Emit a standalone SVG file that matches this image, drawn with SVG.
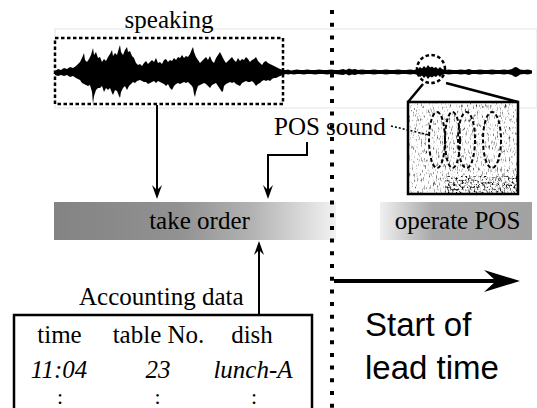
<svg xmlns="http://www.w3.org/2000/svg" width="537" height="408" viewBox="0 0 537 408">
<style>
.serif{font-family:"Liberation Serif","Times New Roman",serif;font-size:25px;fill:#000}
.it{font-style:italic}
.col{font-size:22px}
.sans{font-family:"Liberation Sans",Arial,sans-serif;font-size:33px;fill:#000}
.conn{fill:none;stroke:#000;stroke-width:2}
.dash{fill:none;stroke:#000;stroke-width:2.5;stroke-dasharray:3.5 2.5}
</style>
<defs>
<marker id="ah" viewBox="-14 -6 14 12" markerWidth="14" markerHeight="12" refX="-4" refY="0" orient="auto" markerUnits="userSpaceOnUse">
<path d="M0,0 L-14,-5 L-9,0 L-14,5 Z" fill="#000"/>
</marker>
<linearGradient id="gTake" x1="0" y1="0" x2="1" y2="0">
<stop offset="0" stop-color="#838383"/>
<stop offset="0.45" stop-color="#929292"/>
<stop offset="0.7" stop-color="#b2b2b2"/>
<stop offset="1" stop-color="#f2f2f2"/>
</linearGradient>
<linearGradient id="gPos" x1="0" y1="0" x2="1" y2="0">
<stop offset="0" stop-color="#f0f0f0"/>
<stop offset="0.35" stop-color="#a8a8a8"/>
<stop offset="1" stop-color="#a2a2a2"/>
</linearGradient>
<filter id="noise" filterUnits="userSpaceOnUse" x="409" y="103" width="108" height="90">
<feTurbulence type="fractalNoise" baseFrequency="0.75 0.22" numOctaves="3" seed="7"/>
<feColorMatrix type="matrix" values="0 0 0 0 0  0 0 0 0 0  0 0 0 0 0  -2.4 0 0 0 1.08"/>
</filter>
<filter id="noise2" filterUnits="userSpaceOnUse" x="445" y="176" width="72" height="17">
<feTurbulence type="fractalNoise" baseFrequency="0.5 0.45" numOctaves="2" seed="3"/>
<feColorMatrix type="matrix" values="0 0 0 0 0  0 0 0 0 0  0 0 0 0 0  -4 0 0 0 2.0"/>
</filter>
</defs>
<rect width="537" height="408" fill="#fff"/>

<!-- waveform strip -->
<g id="waveform">
<rect x="55" y="29" width="482" height="79" fill="none" stroke="#ededed" stroke-width="1.5"/>
<path fill="#000" d="M55,71 L58,69 61,70 64,68 67,69 70,67 73,68 76,66 78,64 80,62 82,58 84,53 85,60 87,62 89,59 91,55 93,48 94,55 96,52 98,58 100,57 102,62 104,59 106,61 108,57 110,54 112,50 113,56 115,53 117,55 119,48 120,45 121,52 123,55 125,50 127,47 128,52 130,51 132,56 134,58 136,63 138,65 140,64 142,66 144,63 146,61 148,64 150,62 152,60 154,62 156,58 158,63 160,62 162,64 164,60 166,59 168,62 170,60 172,61 174,58 176,60 178,57 180,58 182,55 184,58 186,56 188,57 190,54 192,49 193,47 194,52 196,57 198,60 200,63 202,61 204,59 206,57 208,60 210,56 212,61 214,63 216,58 218,55 220,52 222,56 224,60 226,63 228,61 230,59 232,57 234,60 236,62 238,58 240,61 242,59 244,60 246,57 248,59 250,62 252,60 254,59 256,57 258,61 260,63 262,65 264,62 266,61 268,63 270,64 272,65 274,66 276,67 278,68 280,69 283,70 286,70 288,69.5 291,70.5 294,70 297,69.5 300,70 304,70 307,69.5 311,70 315,70 319,69.5 323,70 327,70 331,69.5 335,70 339,70 343,69 346,70 349,68.5 352,69.5 355,69 358,70 362,69.5 366,70 370,70 374,69.5 378,70 382,70 386,69.5 390,70 394,70 398,69.5 402,70 406,70 410,69.5 414,70 418,69 420,67 422,68.5 424,66 426,68 428,65 430,67.5 432,66.5 434,68 436,67 438,69 440,67 442,69 445,70 449,69.5 453,70 457,70 461,69.5 465,70 469,69 472,70 476,70 480,69.5 484,70 488,70 492,69.5 496,70 500,70 504,69.5 508,70 512,69 514,67.5 516,67 518,68 520,69.5 524,70 528,69.5 532,70.5 L532,73 L55,73 Z"/>
<path fill="#000" d="M55,75 L58,76 61,75 64,76 67,75 70,77 73,76 76,78 78,79 80,80 82,83 84,84 86,85 88,86 90,85 92,92 93,104 94,96 96,90 98,88 100,88 102,86 104,92 106,88 108,90 110,88 112,93 113,95 115,90 117,91 119,96 120,98 121,92 123,88 125,86 127,90 129,86 131,84 133,82 135,83 137,81 140,80 142,81 144,82 146,82 148,84 150,83 152,82 154,81 156,83 158,81 160,82 162,83 164,84 166,86 168,84 170,88 172,90 174,86 176,84 178,83 180,84 182,83 184,82 186,83 188,82 190,84 192,86 193,88 194,94 195,97 196,92 198,86 200,85 202,84 204,83 206,84 208,86 210,88 212,85 214,84 216,83 218,86 220,89 222,92 223,91 224,86 226,84 228,83 230,82 232,83 234,82 236,84 238,85 240,86 242,83 244,82 246,81 248,82 250,82 252,81 254,83 256,86 258,84 260,83 262,81 264,80 266,81 268,80 270,81 272,79 274,78 276,78 278,77 280,76 283,75 286,74 288,74.5 291,74 294,74.5 297,74 300,74 304,74.5 307,74 311,74 315,74.5 319,74 323,74 327,74.5 331,74 335,74 339,74.5 343,75 346,74 349,75.5 352,74.5 355,75 358,74 362,74.5 366,74 370,74 374,74.5 378,74 382,74 386,74.5 390,74 394,74 398,74.5 402,74 406,74 410,74.5 414,74 418,75 420,77 422,75.5 424,78 426,76 428,79 430,76.5 432,77.5 434,76 436,77 438,75 440,77 442,75 445,74 449,74.5 453,74 457,74 461,74.5 465,74 469,75 472,74 476,74 480,74.5 484,74 488,74 492,74.5 496,74 500,74 504,74.5 508,74 512,75 514,76.5 516,77 518,76 520,74.5 524,74 528,74.5 532,73.5 L532,71 L55,71 Z"/>
</g>

<!-- speaking node -->
<g id="node-speaking">
<rect class="dash" x="55" y="38" width="228" height="66"/>
<text class="serif" x="169" y="28" text-anchor="middle">speaking</text>
</g>

<!-- POS sound node -->
<g id="node-pos-sound">
<circle class="dash" cx="431" cy="69" r="14"/>
<line x1="423" y1="84" x2="408" y2="102" stroke="#000" stroke-width="2.5"/>
<line x1="446" y1="83" x2="518" y2="102" stroke="#000" stroke-width="2.5"/>
<rect x="408" y="102" width="110" height="92" fill="#fff"/>
<rect x="409" y="103" width="108" height="90" fill="#000" filter="url(#noise)"/>
<rect x="445" y="176" width="72" height="17" fill="#000" filter="url(#noise2)"/>
<rect x="408" y="102" width="110" height="92" fill="none" stroke="#000" stroke-width="2.5"/>
<g fill="none" stroke="#000" stroke-width="2" stroke-dasharray="4 2.5">
<ellipse cx="437" cy="140" rx="8" ry="28"/>
<ellipse cx="452.5" cy="140" rx="7.5" ry="28"/>
<ellipse cx="466.5" cy="140" rx="8.5" ry="28"/>
<ellipse cx="492" cy="140" rx="9" ry="28"/>
</g>
<line x1="391" y1="126" x2="429" y2="135" stroke="#000" stroke-width="1.6" stroke-dasharray="2 2"/>
<text class="serif" x="274" y="135">POS sound</text>
</g>

<!-- take order node -->
<g id="node-take-order">
<rect x="54" y="202" width="282" height="38" fill="url(#gTake)"/>
<text class="serif" x="199.5" y="229" text-anchor="middle" fill="#111">take order</text>
</g>

<!-- operate POS node -->
<g id="node-operate-pos">
<rect x="380" y="202" width="152" height="38" fill="url(#gPos)"/>
<text class="serif" x="457.5" y="229" text-anchor="middle" fill="#111">operate POS</text>
</g>

<!-- accounting data node -->
<g id="node-accounting">
<text class="serif" x="79" y="305">Accounting data</text>
<rect x="14" y="315" width="298" height="100" fill="none" stroke="#000" stroke-width="2.5"/>
<text class="serif" x="59.5" y="343" text-anchor="middle">time</text>
<text class="serif" x="158.5" y="343" text-anchor="middle">table No.</text>
<text class="serif" x="252" y="343" text-anchor="middle">dish</text>
<text class="serif it" x="59" y="378" text-anchor="middle">11:04</text>
<text class="serif it" x="158" y="378" text-anchor="middle">23</text>
<text class="serif it" x="253" y="378" text-anchor="middle">lunch-A</text>
<text class="serif col" x="60" y="404" text-anchor="middle">:</text>
<text class="serif col" x="157.5" y="404" text-anchor="middle">:</text>
<text class="serif col" x="254" y="404" text-anchor="middle">:</text>
</g>

<!-- lead time node -->
<g id="node-lead-time">
<text class="sans" x="365" y="336">Start of</text>
<text class="sans" x="365" y="379">lead time</text>
</g>

<!-- connectors -->
<g id="connectors">
<line x1="332" y1="10" x2="332" y2="408" stroke="#000" stroke-width="4" stroke-dasharray="4 8.7"/>
<path class="conn" d="M157,105 V195" marker-end="url(#ah)"/>
<path class="conn" d="M307,142 V155 H268 V195" marker-end="url(#ah)"/>
<path class="conn" d="M259,315 V245" marker-end="url(#ah)"/>
<line x1="334" y1="281" x2="498" y2="281" stroke="#000" stroke-width="4"/>
<polygon points="520,281 484,270 496,281 484,292" fill="#000"/>
</g>
</svg>
